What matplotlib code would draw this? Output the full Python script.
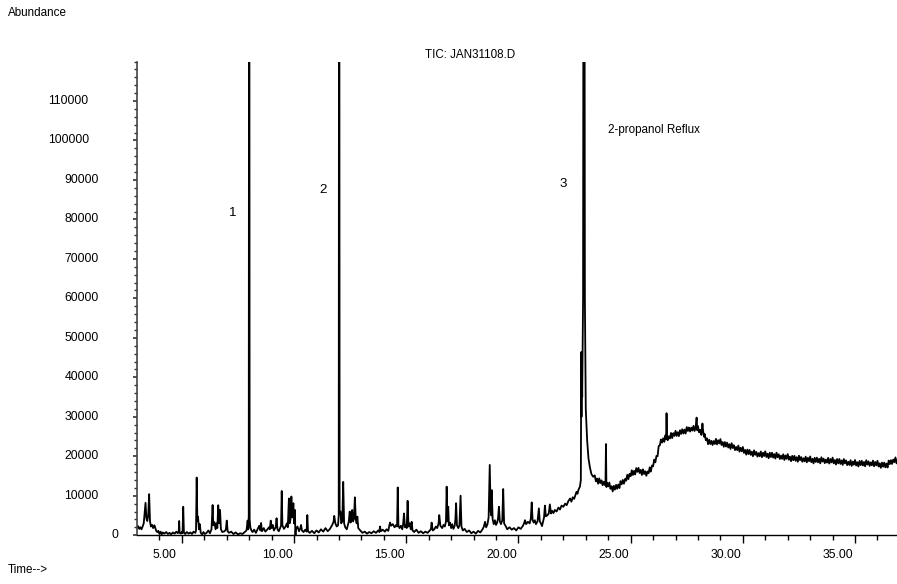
import matplotlib
matplotlib.use("Agg")
import matplotlib.pyplot as plt
from matplotlib import font_manager, transforms
import numpy as np

# ---------------- data ----------------
early_trace = [
    (3.00, 1800), (3.05, 2300), (3.10, 1600), (3.15, 2000), (3.20, 1500), (3.25, 2200),
    (3.30, 3000), (3.38, 8200), (3.42, 4200), (3.46, 3600), (3.50, 5000), (3.54, 10400),
    (3.58, 3500), (3.62, 2200), (3.68, 2600), (3.72, 1800), (3.78, 2500), (3.85, 1200),
    (3.90, 800), (3.95, 1100), (4.00, 300), (4.05, 900), (4.10, 200), (4.15, 700),
    (4.22, 400), (4.30, 800), (4.38, 300), (4.45, 600), (4.52, 200), (4.60, 700),
    (4.68, 400), (4.75, 900), (4.82, 500), (4.86, 1000), (4.88, 3600), (4.90, 600),
    (4.95, 400), (5.00, 800), (5.03, 500), (5.06, 7200), (5.09, 700), (5.15, 300),
    (5.22, 800), (5.30, 400), (5.38, 700), (5.45, 300), (5.52, 900), (5.60, 600),
    (5.63, 1200), (5.66, 14600), (5.69, 3500), (5.72, 4700), (5.76, 1500), (5.80, 2800),
    (5.84, 600), (5.90, 200), (5.96, 800), (6.02, 300), (6.10, 600), (6.18, 1200),
    (6.25, 500), (6.32, 1500), (6.37, 7650), (6.40, 2500), (6.45, 3300), (6.50, 1500),
    (6.55, 3000), (6.58, 1800), (6.62, 7600), (6.66, 3000), (6.70, 6400), (6.74, 1500),
    (6.80, 800), (6.90, 1000), (6.96, 1400), (7.00, 3700), (7.04, 1000), (7.10, 600),
    (7.20, 900), (7.30, 300), (7.40, 700), (7.50, 200), (7.60, 500), (7.70, 300),
    (7.80, 800), (7.88, 1200), (7.93, 3700), (7.96, 1500), (7.98, 5000), (8.00, 250000),
    (8.02, 4000), (8.05, 2000), (8.10, 1200), (8.15, 800), (8.22, 1400), (8.30, 600),
    (8.38, 1600), (8.45, 2400), (8.50, 1200), (8.53, 3100), (8.57, 1000), (8.65, 1800),
    (8.72, 900), (8.80, 1400), (8.88, 2000), (8.92, 1500), (8.96, 3700), (9.00, 1800),
    (9.05, 2600), (9.10, 1200), (9.18, 2000), (9.22, 4300), (9.26, 1500), (9.32, 1000),
    (9.38, 1800), (9.42, 2400), (9.45, 11200), (9.48, 2500), (9.55, 1600), (9.62, 2200),
    (9.68, 3000), (9.72, 2000), (9.77, 9300), (9.80, 3000), (9.84, 4000), (9.88, 9800),
    (9.92, 4500), (9.97, 8100), (10.00, 3000), (10.04, 6400), (10.06, -1200), (10.08, 1500),
    (10.15, 2200), (10.22, 1000), (10.28, 1800), (10.31, 2600), (10.35, 1200), (10.42, 800),
    (10.50, 1400), (10.56, 900), (10.59, 5100), (10.62, 1000), (10.70, 600), (10.80, 1100),
    (10.90, 500), (11.00, 1200), (11.10, 700), (11.20, 1500), (11.30, 900), (11.40, 1800),
    (11.50, 1000), (11.60, 1600), (11.70, 2600), (11.76, 3400), (11.79, 4900), (11.84, 3000),
    (11.90, 2200), (11.96, 2500), (11.99, 5000), (12.01, 250000), (12.03, 5500), (12.07, 6000),
    (12.10, 3000), (12.15, 3500), (12.19, 13500), (12.23, 3000), (12.28, 2000), (12.35, 1500),
    (12.40, 2600), (12.44, 3500), (12.48, 6000), (12.52, 3200), (12.55, 4000), (12.59, 6400),
    (12.63, 3500), (12.67, 4200), (12.71, 9600), (12.75, 4000), (12.79, 3000), (12.82, 4700),
    (12.86, 1800), (12.95, 1200), (13.05, 600), (13.15, 900), (13.25, 400), (13.35, 800),
    (13.45, 500), (13.55, 1000), (13.65, 600), (13.75, 1200), (13.80, 800), (13.83, 2200),
    (13.87, 1000), (13.95, 1400), (14.05, 900), (14.12, 1500), (14.20, 1100), (14.25, 2600),
    (14.28, 3200), (14.32, 2400), (14.40, 2800), (14.48, 2000), (14.55, 2600), (14.59, 2200),
    (14.62, 12100), (14.65, 2500), (14.70, 1800), (14.76, 2400), (14.82, 1500), (14.86, 2800),
    (14.90, 5500), (14.94, 2000), (14.98, 2600), (15.02, 1800), (15.06, 8700), (15.10, 2200),
    (15.15, 3000), (15.20, 1500), (15.24, 3400), (15.28, 1200), (15.35, 800), (15.45, 1400),
    (15.55, 600), (15.65, 1000), (15.75, 500), (15.85, 900), (15.95, 600), (16.05, 1200),
    (16.10, 1600), (16.13, 3200), (16.18, 1200), (16.25, 1500), (16.32, 2200), (16.38, 1800),
    (16.44, 3000), (16.47, 5100), (16.52, 2400), (16.60, 1800), (16.66, 2600), (16.72, 2200),
    (16.77, 3500), (16.80, 12300), (16.84, 3500), (16.87, 7200), (16.90, 2500), (16.95, 3200),
    (17.00, 1800), (17.05, 2800), (17.10, 1600), (17.16, 2400), (17.19, 4000), (17.22, 8100),
    (17.26, 2500), (17.32, 1800), (17.37, 2500), (17.42, 10000), (17.46, 2200), (17.52, 1200),
    (17.60, 1600), (17.70, 800), (17.80, 1200), (17.90, 500), (18.00, 900), (18.10, 400),
    (18.20, 1100), (18.30, 700), (18.40, 1500), (18.46, 2200), (18.51, 3400), (18.56, 2000),
    (18.62, 2800), (18.67, 4500), (18.72, 17800), (18.76, 6000), (18.79, 5000), (18.81, 11400),
    (18.85, 4000), (18.90, 2800), (18.95, 3800), (19.00, 2600), (19.05, 3200), (19.09, 4200),
    (19.13, 7200), (19.17, 3500), (19.22, 2800), (19.28, 3800), (19.32, 11700), (19.36, 3000),
    (19.44, 2200), (19.50, 1500), (19.60, 2000), (19.70, 1400), (19.80, 1800), (19.90, 1200),
    (20.00, 2000), (20.10, 1600), (20.20, 2400), (20.25, 3000), (20.29, 3800), (20.34, 2800),
    (20.42, 3400), (20.50, 3000), (20.55, 4200), (20.59, 8300), (20.63, 3800), (20.68, 3200),
    (20.73, 3800), (20.78, 2800), (20.85, 3500), (20.91, 6800), (20.95, 3500), (21.00, 3000),
    (21.05, 2300), (21.10, 3500), (21.14, 4500), (21.18, 7500), (21.22, 4800), (21.28, 5000),
    (21.35, 5500), (21.40, 7800), (21.45, 5500), (21.50, 6200), (21.56, 5600), (21.62, 6400),
    (21.70, 6000), (21.78, 7000), (21.85, 6500), (21.92, 7500), (22.00, 7200), (22.08, 8000),
    (22.15, 7600), (22.22, 8600), (22.30, 9300), (22.36, 8500), (22.42, 9600), (22.48, 9200),
    (22.54, 10200), (22.59, 11000), (22.63, 10500), (22.68, 11600), (22.74, 12300), (22.78, 14000),
    (22.80, 46400), (22.81, 30000), (22.82, 45000), (22.84, 35000), (22.88, 60000), (22.92, 300000),
    (22.96, 60000), (23.00, 32000), (23.06, 24100), (23.12, 19500), (23.18, 17300), (23.25, 15500),
    (23.33, 14800),
]

late_trace = [
    (23.40, 15150), (23.45, 13650), (23.50, 14350), (23.55, 13050), (23.60, 14400), (23.65, 13200),
    (23.70, 13900), (23.75, 12650), (23.80, 13550), (23.85, 12700), (23.88, 13800), (23.90, 23100),
    (23.92, 12200), (23.95, 13250), (24.00, 12350), (24.05, 13350), (24.10, 11750), (24.15, 12400),
    (24.20, 11100), (24.25, 12500), (24.30, 11550), (24.35, 12750), (24.40, 11750), (24.45, 12850),
    (24.50, 11950), (24.55, 13700), (24.60, 12900), (24.65, 14000), (24.70, 13050), (24.75, 14250),
    (24.80, 13800), (24.85, 15300), (24.90, 14200), (24.95, 15550), (25.00, 14950), (25.05, 16450),
    (25.10, 15250), (25.15, 16300), (25.20, 15400), (25.25, 17000), (25.30, 16050), (25.35, 17050),
    (25.40, 15750), (25.45, 16550), (25.50, 15250), (25.55, 16700), (25.60, 15500), (25.65, 16200),
    (25.70, 15050), (25.75, 16150), (25.80, 15700), (25.85, 17200), (25.90, 16100), (25.95, 17650),
    (26.00, 17450), (26.05, 19150), (26.10, 18450), (26.15, 20100), (26.20, 20000), (26.25, 22600),
    (26.30, 22750), (26.35, 24250), (26.40, 23450), (26.45, 24550), (26.50, 23650), (26.55, 25300),
    (26.58, 24300), (26.60, 30900), (26.62, 25100), (26.65, 24050), (26.70, 25050), (26.75, 24500),
    (26.80, 25900), (26.85, 24600), (26.90, 25850), (26.95, 25150), (27.00, 26450), (27.05, 25150),
    (27.10, 26100), (27.15, 25100), (27.20, 26600), (27.25, 25650), (27.30, 26850), (27.35, 25750),
    (27.40, 26750), (27.45, 25750), (27.50, 27400), (27.55, 26400), (27.60, 27300), (27.65, 26250),
    (27.70, 27250), (27.75, 26500), (27.80, 27700), (27.85, 26400), (27.90, 27550), (27.94, 29800),
    (27.97, 26550), (28.00, 27650), (28.05, 26050), (28.10, 26700), (28.15, 25400), (28.20, 28300),
    (28.23, 26400), (28.27, 24950), (28.30, 25650), (28.35, 24050), (28.40, 24550), (28.45, 23050),
    (28.50, 24200), (28.55, 23100), (28.60, 23900), (28.65, 22850), (28.70, 23850), (28.75, 23100),
    (28.80, 24400), (28.85, 23000), (28.90, 24050), (28.95, 23250), (29.00, 24350), (29.05, 22850),
    (29.10, 23600), (29.15, 22400), (29.20, 23600), (29.25, 22450), (29.30, 23450), (29.35, 22200),
    (29.40, 23050), (29.45, 21850), (29.50, 23300), (29.55, 22100), (29.60, 22800), (29.65, 21550),
    (29.70, 22350), (29.75, 21550), (29.80, 22700), (29.85, 21150), (29.90, 22150), (29.95, 21250),
    (30.00, 22350), (30.05, 20850), (30.10, 21600), (30.15, 20400), (30.20, 21700), (30.25, 20550),
    (30.30, 21600), (30.35, 20350), (30.40, 21150), (30.45, 20000), (30.50, 21500), (30.55, 20350),
    (30.60, 21100), (30.65, 19900), (30.70, 20800), (30.75, 20000), (30.80, 21200), (30.85, 19750),
    (30.90, 20900), (30.95, 20050), (31.00, 21250), (31.05, 19800), (31.10, 20650), (31.15, 19500),
    (31.20, 20900), (31.25, 19800), (31.30, 20900), (31.35, 19650), (31.40, 20550), (31.45, 19400),
    (31.50, 20900), (31.55, 19750), (31.60, 20500), (31.65, 19300), (31.70, 20150), (31.75, 19350),
    (31.80, 20500), (31.85, 19050), (31.90, 20200), (31.95, 19350), (32.00, 20550), (32.05, 19100),
    (32.10, 19900), (32.15, 18750), (32.20, 20100), (32.25, 19000), (32.30, 20100), (32.35, 18850),
    (32.40, 19750), (32.45, 18600), (32.50, 20150), (32.55, 19000), (32.60, 19800), (32.65, 18600),
    (32.70, 19500), (32.75, 18700), (32.80, 19900), (32.85, 18450), (32.90, 19600), (32.95, 18750),
    (33.00, 19950), (33.05, 18500), (33.10, 19350), (33.15, 18200), (33.20, 19600), (33.25, 18550),
    (33.30, 19650), (33.35, 18450), (33.40, 19350), (33.45, 18200), (33.50, 19750), (33.55, 18650),
    (33.60, 19400), (33.65, 18250), (33.70, 19150), (33.75, 18400), (33.80, 19600), (33.85, 18150),
    (33.90, 19300), (33.95, 18450), (34.00, 19650), (34.05, 18200), (34.10, 19050), (34.15, 17900),
    (34.20, 19300), (34.25, 18200), (34.30, 19300), (34.35, 18050), (34.40, 18950), (34.45, 17800),
    (34.50, 19300), (34.55, 18200), (34.60, 18950), (34.65, 17750), (34.70, 18600), (34.75, 17800),
    (34.80, 19000), (34.85, 17550), (34.90, 18650), (34.95, 17850), (35.00, 19050), (35.05, 17650),
    (35.10, 18500), (35.15, 17400), (35.20, 18800), (35.25, 17750), (35.30, 18850), (35.35, 17650),
    (35.40, 18550), (35.45, 17450), (35.50, 19000), (35.55, 17900), (35.60, 18700), (35.65, 17550),
    (35.70, 18450), (35.75, 17700), (35.80, 18900), (35.85, 17450), (35.90, 18550), (35.95, 17700),
    (36.00, 18850), (36.05, 17400), (36.10, 18200), (36.15, 17050), (36.20, 18400), (36.25, 17350),
    (36.30, 18400), (36.35, 17200), (36.40, 18150), (36.45, 17150), (36.50, 18900), (36.55, 18000),
    (36.60, 19000), (36.65, 18050), (36.70, 19150), (36.75, 18500), (36.80, 19700), (36.85, 18200),
    (36.90, 19250),
]

x_tick_values = [5, 10, 15, 20, 25, 30, 35]
x_tick_labels = ["5.00", "10.00", "15.00", "20.00", "25.00", "30.00", "35.00"]
y_tick_values = [0, 10000, 20000, 30000, 40000, 50000, 60000, 70000, 80000, 90000, 100000, 110000]
y_tick_labels = ["0", "10000", "20000", "30000", "40000", "50000", "60000", "70000",
                 "80000", "90000", "100000", "110000"]
peak_labels = ["1", "2", "3"]
peak_label_pos = [(7.28, 81600), (11.29, 87400), (21.98, 88900)]
title_text = "TIC: JAN31108.D"
sample_text = "2-propanol Reflux"

# ---------------- fonts ----------------
names = {f.name for f in font_manager.fontManager.ttflist}
if "Liberation Sans Narrow" in names:
    FAM, FS = "Liberation Sans Narrow", 10
else:
    FAM, FS = "Liberation Sans", 8.8
plt.rcParams["font.family"] = FAM

W, H = 897, 584
fig = plt.figure(figsize=(W / 100, H / 100), dpi=100)
ax_left, ax_right = 137 / W, 1.0
ax_bottom, ax_top = 1 - 535.2 / H, 1 - 61.5 / H
ax = fig.add_axes([ax_left, ax_bottom, ax_right - ax_left, ax_top - ax_bottom])

t = np.array([p[0] for p in early_trace + late_trace])
y = np.array([p[1] for p in early_trace + late_trace])
ax.plot(t, y, color="black", lw=1.3)

ax.set_xlim(3.0, 36.87)
ax.set_ylim(0, 120000)

for s in ["top", "right"]:
    ax.spines[s].set_visible(False)
ax.spines["left"].set_color("#444444")
ax.spines["left"].set_linewidth(1.2)
ax.spines["bottom"].set_color("black")
ax.spines["bottom"].set_linewidth(1.0)

# x ticks
ax.set_xticks(x_tick_values)
ax.set_xticks(np.arange(4, 37, 1), minor=True)
ax.set_xticklabels(x_tick_labels, fontsize=FS)
ax.tick_params(axis="x", which="major", direction="out", length=6, width=1, pad=4)
ax.tick_params(axis="x", which="minor", direction="out", length=3.5, width=1)
off = transforms.ScaledTranslation(-17 / 100, 0, fig.dpi_scale_trans)
for lbl in ax.get_xticklabels():
    lbl.set_transform(lbl.get_transform() + off)

# y ticks
ax.set_yticks(y_tick_values)
ax.set_yticks(np.arange(0, 120001, 2000), minor=True)
ax.set_yticklabels([])
ax.tick_params(axis="y", which="major", direction="out", length=3, width=1.2, color="#333333")
ax.tick_params(axis="y", which="minor", direction="out", length=2, width=1, color="#333333")
blend = transforms.blended_transform_factory(fig.transFigure, ax.transData)
for v, s in zip(y_tick_values, y_tick_labels):
    if len(s) == 6:
        xc = 68.5
    elif len(s) == 5:
        xc = 81.5
    else:
        xc = 115
    ax.text(xc / W, v, s, transform=blend, ha="center", va="center", fontsize=FS, clip_on=False)

# texts
fig.text(8 / W, 1 - 13 / H, "Abundance", ha="left", va="center", fontsize=FS * 0.95)
fig.text(8 / W, 1 - 570 / H, "Time-->", ha="left", va="center", fontsize=FS * 0.95)
fig.text(425 / W, 1 - 55 / H, title_text, ha="left", va="center", fontsize=FS * 0.95)
ax.text(23.99, 102600, sample_text, ha="left", va="center", fontsize=FS * 0.95)
for lab, (px, py) in zip(peak_labels, peak_label_pos):
    ax.text(px, py, lab, ha="center", va="center", fontsize=FS * 1.1)

fig.savefig("out.png", dpi=100)
